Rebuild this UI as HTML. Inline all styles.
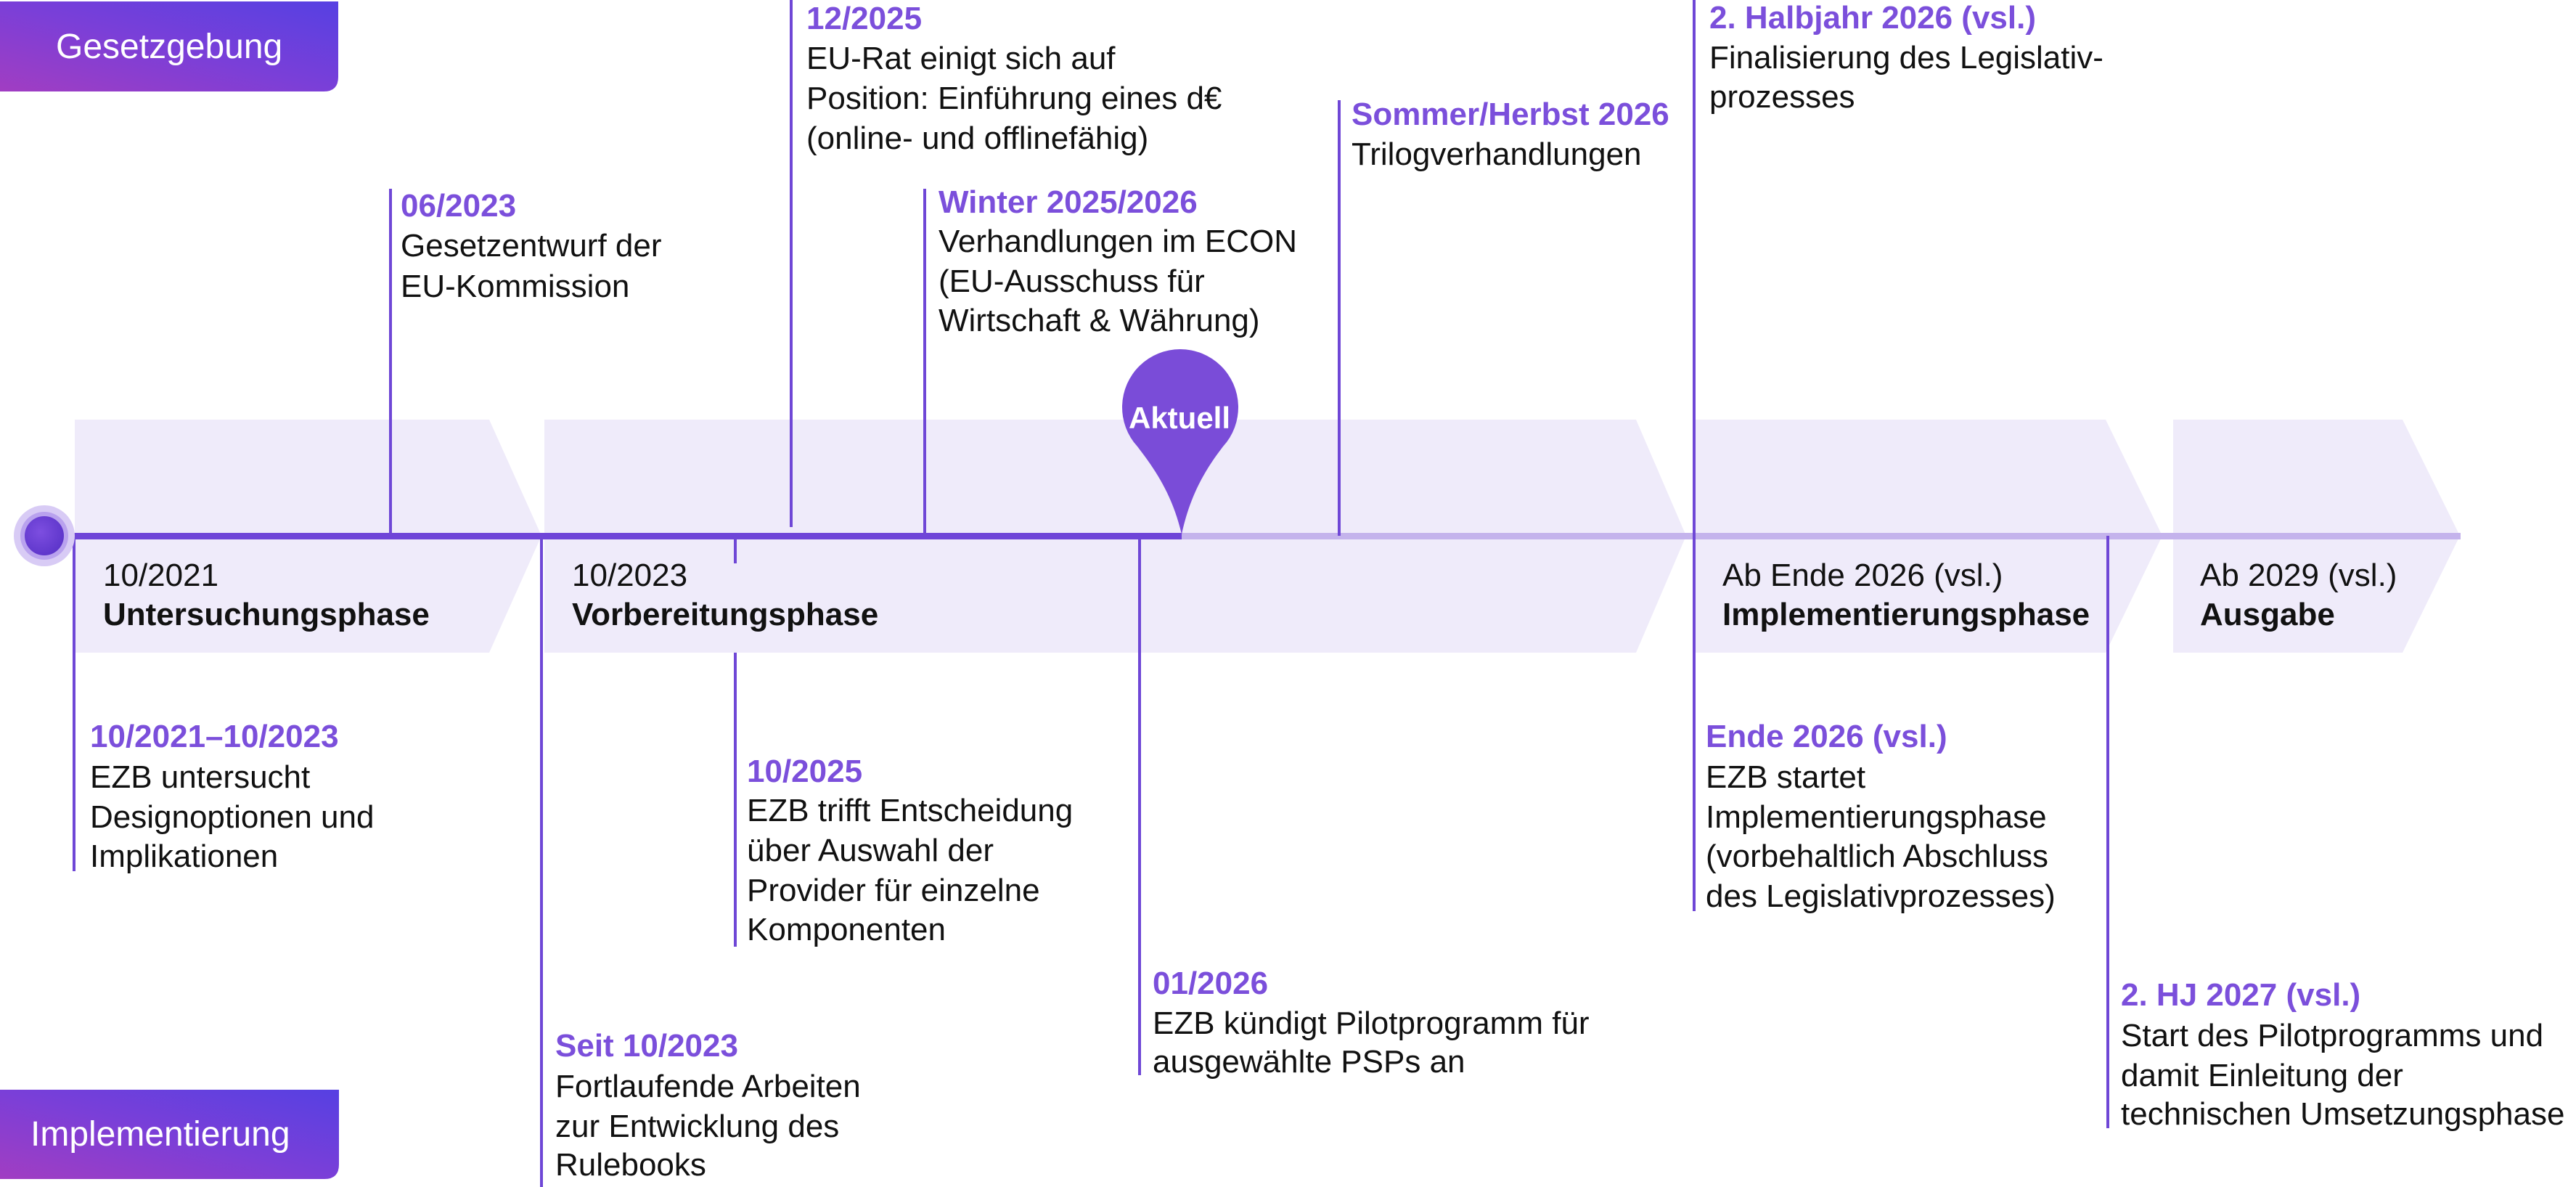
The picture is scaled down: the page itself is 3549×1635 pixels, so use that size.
<!DOCTYPE html>
<html><head><meta charset="utf-8"><style>
html,body{margin:0;padding:0;background:#fff;}
svg{display:block}
text{font-family:"Liberation Sans",sans-serif;font-size:44px;fill:#111;letter-spacing:0px}
.d{fill:#7b4fdb;font-weight:bold}
.b{font-weight:bold}
</style></head><body>
<svg width="3549" height="1635" viewBox="0 0 3549 1635" xmlns="http://www.w3.org/2000/svg">
<defs>
<linearGradient id="tg" x1="0" y1="1" x2="1" y2="0">
<stop offset="0" stop-color="#a13dc2"/><stop offset="0.5" stop-color="#7a3fd8"/><stop offset="1" stop-color="#5640e2"/>
</linearGradient>
<radialGradient id="dg" cx="0.4" cy="0.4" r="0.7"><stop offset="0" stop-color="#7d4ee0"/><stop offset="1" stop-color="#5a33c8"/></radialGradient>
</defs>
<path d="M0 2 H466 V106 Q466 126 446 126 H0 Z" fill="url(#tg)"/>
<text x="77" y="80" style="fill:#fff;font-size:48px">Gesetzgebung</text>
<path d="M0 1501 H467 V1604 Q467 1624 447 1624 H0 Z" fill="url(#tg)"/>
<text x="42" y="1578" style="fill:#fff;font-size:48px">Implementierung</text>

<g fill="#efebfa">
<polygon points="103,578 674,578 746,738 674,899 103,899"/>
<polygon points="750,578 2254,578 2323,738 2254,899 750,899"/>
<polygon points="2336,578 2901,578 2979,738 2901,899 2336,899"/>
<polygon points="2994,578 3310,578 3389,738 3310,899 2994,899"/>
</g>

<rect x="2335" y="734" width="1055" height="9" fill="#c4b3ec"/>
<rect x="1628" y="734" width="710" height="9" fill="#c4b3ec"/>
<rect x="61" y="734" width="1567" height="9" fill="#6f45d8"/>

<g stroke="#6f47d6" stroke-width="4">
<line x1="538" y1="260" x2="538" y2="738"/>
<line x1="1090" y1="0" x2="1090" y2="726"/>
<line x1="1274" y1="260" x2="1274" y2="738"/>
<line x1="1845" y1="138" x2="1845" y2="738"/>
<line x1="2334" y1="0" x2="2334" y2="1255"/>
<line x1="102" y1="738" x2="102" y2="1200"/>
<line x1="746" y1="738" x2="746" y2="1635"/>
<line x1="1013" y1="738" x2="1013" y2="776"/>
<line x1="1013" y1="899" x2="1013" y2="1304"/>
<line x1="1570" y1="738" x2="1570" y2="1481"/>
<line x1="2904" y1="738" x2="2904" y2="1554"/>
</g>

<circle cx="61" cy="738" r="42" fill="#d8cbf5"/>
<circle cx="61" cy="738" r="33" fill="#b9a2ee"/>
<circle cx="61" cy="738" r="27" fill="url(#dg)"/>

<path d="M1628 736 C1615 680 1590 645 1567 615 A80 80 0 1 1 1685 615 C1662 645 1640 680 1628 736 Z" fill="#7a4cd8"/>
<text x="1625" y="590" text-anchor="middle" class="b" style="fill:#fff;font-size:42px">Aktuell</text>

<text x="552" y="298" class="d">06/2023</text>
<text x="552" y="353">Gesetzentwurf der</text>
<text x="552" y="409">EU-Kommission</text>

<text x="1111" y="40" class="d">12/2025</text>
<text x="1111" y="95">EU-Rat einigt sich auf</text>
<text x="1111" y="150">Position: Einführung eines d€</text>
<text x="1111" y="205">(online- und offlinefähig)</text>

<text x="1293" y="293" class="d">Winter 2025/2026</text>
<text x="1293" y="347">Verhandlungen im ECON</text>
<text x="1293" y="402">(EU-Ausschuss für</text>
<text x="1293" y="456">Wirtschaft &amp; Währung)</text>

<text x="1862" y="172" class="d">Sommer/Herbst 2026</text>
<text x="1862" y="227">Trilogverhandlungen</text>

<text x="2355" y="39" class="d">2. Halbjahr 2026 (vsl.)</text>
<text x="2355" y="94">Finalisierung des Legislativ-</text>
<text x="2355" y="148">prozesses</text>

<text x="142" y="807">10/2021</text>
<text x="142" y="861" class="b">Untersuchungsphase</text>
<text x="788" y="807">10/2023</text>
<text x="788" y="861" class="b">Vorbereitungsphase</text>
<text x="2373" y="807">Ab Ende 2026 (vsl.)</text>
<text x="2373" y="861" class="b">Implementierungsphase</text>
<text x="3031" y="807">Ab 2029 (vsl.)</text>
<text x="3031" y="861" class="b">Ausgabe</text>

<text x="124" y="1029" class="d">10/2021–10/2023</text>
<text x="124" y="1085">EZB untersucht</text>
<text x="124" y="1140">Designoptionen  und</text>
<text x="124" y="1194">Implikationen</text>

<text x="1029" y="1077" class="d">10/2025</text>
<text x="1029" y="1131">EZB trifft Entscheidung</text>
<text x="1029" y="1186">über Auswahl der</text>
<text x="1029" y="1241">Provider für einzelne</text>
<text x="1029" y="1295">Komponenten</text>

<text x="765" y="1455" class="d">Seit 10/2023</text>
<text x="765" y="1511">Fortlaufende Arbeiten</text>
<text x="765" y="1566">zur Entwicklung des</text>
<text x="765" y="1619">Rulebooks</text>

<text x="1588" y="1369" class="d">01/2026</text>
<text x="1588" y="1424">EZB kündigt Pilotprogramm für</text>
<text x="1588" y="1477">ausgewählte PSPs an</text>

<text x="2350" y="1029" class="d">Ende 2026 (vsl.)</text>
<text x="2350" y="1085">EZB startet</text>
<text x="2350" y="1140">Implementierungsphase</text>
<text x="2350" y="1194">(vorbehaltlich Abschluss</text>
<text x="2350" y="1249">des Legislativprozesses)</text>

<text x="2922" y="1385" class="d">2. HJ 2027 (vsl.)</text>
<text x="2922" y="1441">Start des Pilotprogramms und</text>
<text x="2922" y="1496">damit Einleitung der</text>
<text x="2922" y="1549">technischen Umsetzungsphase</text>
</svg>
</body></html>
